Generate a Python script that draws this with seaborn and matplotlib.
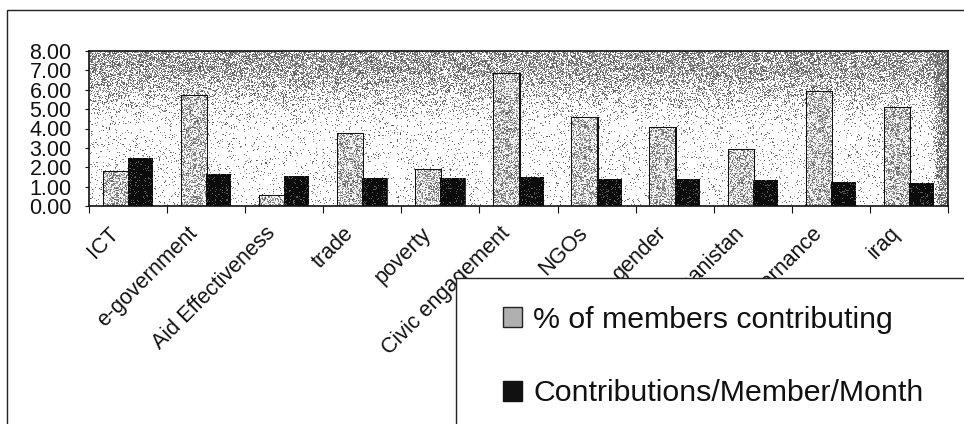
import numpy as np
import pandas as pd
import matplotlib
matplotlib.use("Agg")
import matplotlib.pyplot as plt
from matplotlib.patches import Rectangle
from matplotlib.ticker import FormatStrFormatter, FixedLocator
from matplotlib.transforms import ScaledTranslation
import seaborn as sns

# ---- data -------------------------------------------------------------
topics = ["ICT", "e-government", "Aid Effectiveness", "trade", "poverty",
          "Civic engagement", "NGOs", "gender", "afghanistan", "governance", "iraq"]
pct_members_contributing = [1.75, 5.70, 0.50, 3.70, 1.85, 6.80, 4.55, 4.05, 2.90, 5.90, 5.05]
contributions_per_member_month = [2.48, 1.65, 1.57, 1.46, 1.46, 1.48, 1.37, 1.37, 1.36, 1.25, 1.17]
series_names = ["% of members contributing", "Contributions/Member/Month"]
y_ticks = [0, 1, 2, 3, 4, 5, 6, 7, 8]

df = pd.DataFrame({
    "topic": topics * 2,
    "value": pct_members_contributing + contributions_per_member_month,
    "series": [series_names[0]] * len(topics) + [series_names[1]] * len(topics),
})

sns.set_theme(style="white")
plt.rcParams["font.family"] = ["Liberation Sans", "DejaVu Sans"]

W, H = 964, 424
fig = plt.figure(figsize=(W / 100, H / 100), dpi=100)
fig.patch.set_facecolor("white")

# outer chart frame
fig.patches.append(Rectangle((7 / W, -0.1), 1.2, 1.1 - 10 / H, transform=fig.transFigure,
                             fc="none", ec="#222222", lw=1.0, zorder=0))

ax = fig.add_axes([89 / W, 1 - 206 / H, (948 - 89) / W, (206 - 51) / H])

# stippled gradient fill for the plot area: dark band on top, light below
rng = np.random.default_rng(11)
ph, pw = 155, 859
yy = np.linspace(0, 1, ph)[:, None]          # 0 = top, 1 = bottom
xx = np.linspace(0, 1, pw)[None, :]
dens = 0.07 + 0.52 * np.clip(1 - (yy - 0.12) / 0.38, 0, 1) ** 1.5
dens = dens + 0.6 * np.clip((xx - 0.982) / 0.01, 0, 1)
dens = np.clip(dens, 0, 0.8) * np.ones((1, pw))
dots = rng.random((ph, pw)) < dens
shade = np.where(dots, 0.30 + 0.35 * rng.random((ph, pw)), 1.0)
ax.imshow(shade, cmap="gray", vmin=0, vmax=1, aspect="auto", interpolation="nearest",
          extent=(-0.5, len(topics) - 0.5, 0, 8), zorder=0)

sns.barplot(data=df, x="topic", y="value", hue="series", order=topics,
            hue_order=series_names, palette=["#b8b8b8", "#111111"],
            width=0.62, gap=0, saturation=1, ax=ax, legend=False, zorder=2)

n = len(topics)
for i, bar in enumerate(ax.patches):
    bar.set_edgecolor("#111111")
    bar.set_linewidth(2.2 if i < n else 0.5)
    # stipple texture inside each bar
    tex = rng.random((140, 24))
    if i < n:
        t = np.where(tex < 0.45, 0.35 + 0.35 * rng.random((140, 24)), 0.95)
    else:
        t = np.where(tex < 0.10, 0.35, 0.05)
    x0, y0 = bar.get_x(), bar.get_y()
    im = ax.imshow(t, cmap="gray", vmin=0, vmax=1, aspect="auto", interpolation="nearest",
                   extent=(x0, x0 + bar.get_width(), y0, y0 + bar.get_height()), zorder=2.5)
    im.set_clip_path(bar)

ax.set_xlim(-0.5, n - 0.5)
ax.set_ylim(0, 8)
ax.set_xlabel("")
ax.set_ylabel("")

ax.yaxis.set_major_locator(FixedLocator(y_ticks))
ax.yaxis.set_major_formatter(FormatStrFormatter("%.2f"))
ax.tick_params(axis="y", which="major", direction="out", length=3, width=0.8,
               color="#111111", labelsize=15.5, pad=9.5, left=True)

# category boundaries carry the x tick marks
ax.xaxis.set_minor_locator(FixedLocator(np.arange(-0.5, n, 1.0)))
ax.tick_params(axis="x", which="minor", direction="out", length=5, width=0.8,
               color="#111111", bottom=True)
ax.tick_params(axis="x", which="major", length=0, labelsize=15.5, pad=6)
shift = ScaledTranslation(-0.12, -0.16, fig.dpi_scale_trans)
for lbl in ax.get_xticklabels():
    lbl.set_rotation(45)
    lbl.set_ha("right")
    lbl.set_va("center")
    lbl.set_rotation_mode("anchor")
    lbl.set_transform(lbl.get_transform() + shift)

for s in ax.spines.values():
    s.set_visible(True)
    s.set_color("#111111")
    s.set_linewidth(1.2)
for lbl in ax.get_yticklabels() + ax.get_xticklabels():
    lbl.set_color("#111111")

# legend box, running off the lower right of the chart
fig.patches.append(Rectangle((456 / W, -0.2), 0.7, 0.2 + 1 - 278 / H, transform=fig.transFigure,
                             fc="white", ec="#222222", lw=1.0, zorder=5))
handles = [Rectangle((0, 0), 1, 1, fc="#b0b0b0", ec="#222222", lw=1.0),
           Rectangle((0, 0), 1, 1, fc="#111111", ec="#111111", lw=1.0)]
leg = fig.legend(handles, series_names, loc="upper left",
                 bbox_to_anchor=(503 / W, 1 - 306 / H), frameon=False,
                 fontsize=21.8, handlelength=0.64, handleheight=0.64,
                 handletextpad=0.36, labelspacing=1.5, borderpad=0, borderaxespad=0)
leg.set_zorder(6)
for t in leg.get_texts():
    t.set_color("#111111")

fig.savefig("out.png", dpi=100)
